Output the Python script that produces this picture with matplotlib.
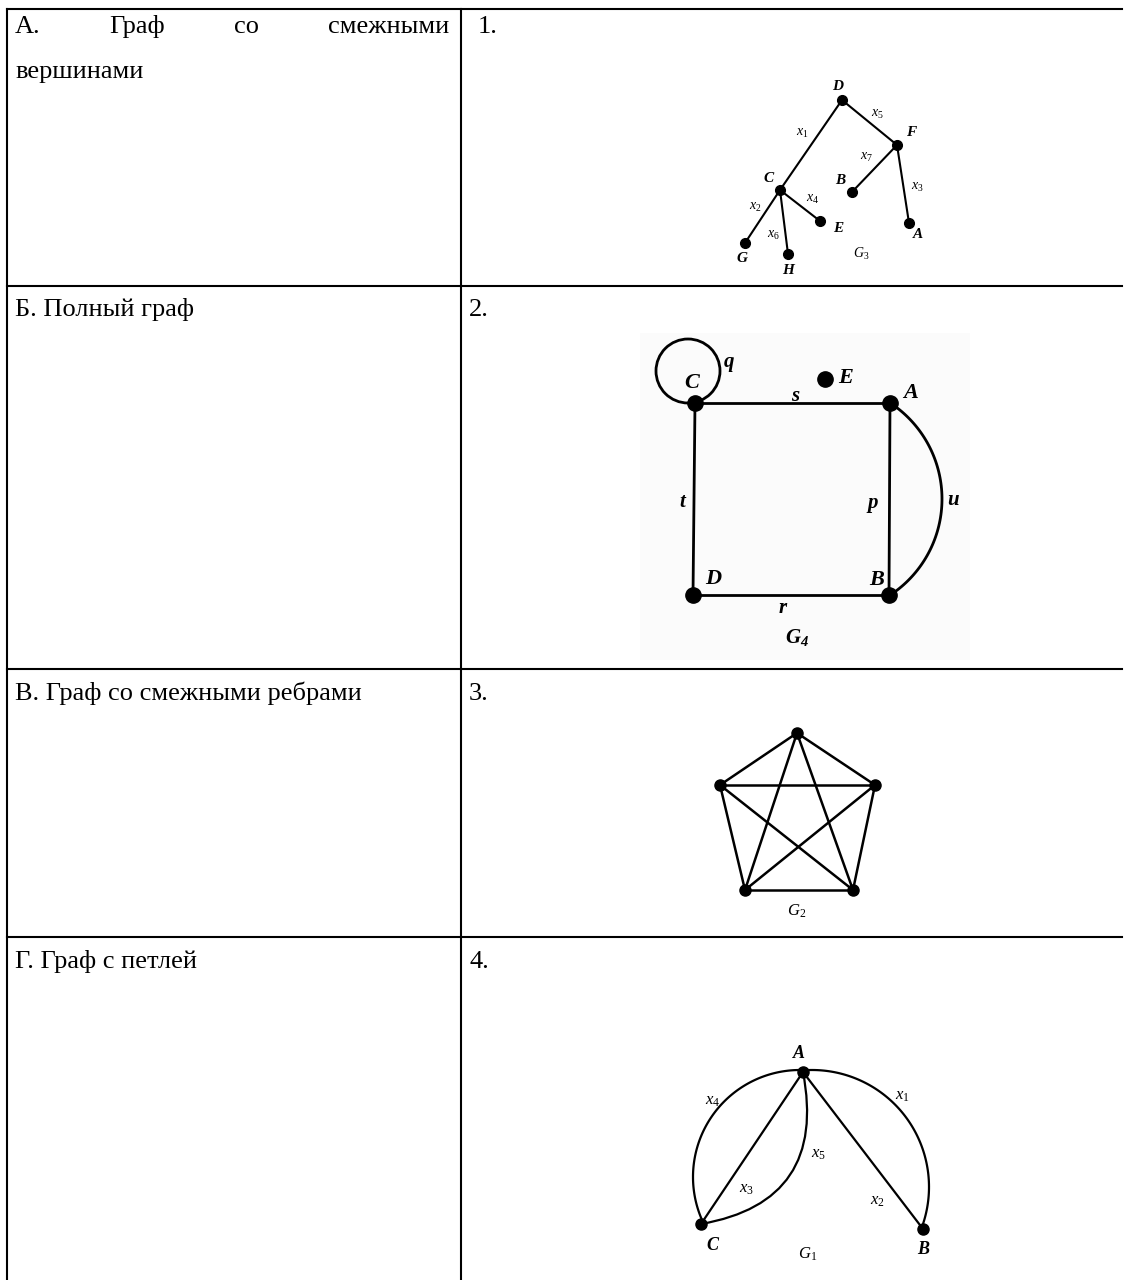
import numpy as np
import matplotlib
matplotlib.use("Agg")
from matplotlib import pyplot as plt
from matplotlib.path import Path
from matplotlib.patches import PathPatch, Circle, Rectangle

plt.rcParams['font.family'] = ['Liberation Serif', 'DejaVu Serif']
plt.rcParams['mathtext.fontset'] = 'custom'
plt.rcParams['mathtext.rm'] = 'Liberation Serif'
plt.rcParams['mathtext.it'] = 'Liberation Serif:italic'
plt.rcParams['mathtext.bf'] = 'Liberation Serif:italic:bold'

#-----table text----------------------------------------------------------
row_lines = [286, 669, 937]
col_line = 461
row_words_1 = ["А.", "Граф", "со", "смежными"]
row_labels = ["вершинами", "Б. Полный граф", "В. Граф со смежными ребрами", "Г. Граф с петлей"]
row_numbers = ["1.", "2.", "3.", "4."]

#-----graph 1 (tree G3)-----------------------------------------------------
g1_nodes = {"D": (842, 100), "F": (897, 145), "C": (780, 190), "B": (852, 192),
            "E": (820, 221), "A": (909, 223), "G": (745, 243), "H": (788, 254)}
g1_edges = [("D", "C"), ("D", "F"), ("F", "B"), ("F", "A"), ("C", "G"), ("C", "H"), ("C", "E")]
g1_node_labels = {"D": (838, 86), "F": (911, 133), "C": (769, 178), "B": (840, 181),
                  "E": (838, 228), "A": (918, 234), "G": (742, 258), "H": (788, 271)}
g1_edge_labels = {"$x_1$": (802, 133), "$x_5$": (877, 114), "$x_7$": (866, 157), "$x_3$": (917, 187),
                  "$x_2$": (755, 207), "$x_4$": (813, 199), "$x_6$": (773, 235), "$G_3$": (861, 254)}

#-----graph 2 (G4 with loop)------------------------------------------------
g2_nodes = {"C": (695, 403), "A": (890, 403), "D": (693, 595), "B": (889, 595), "E": (825, 379)}
g2_edges = [("C", "A"), ("C", "D"), ("D", "B"), ("A", "B")]
g2_loop = (688, 371, 32)
g2_arc = (827, 499, 115)  # centre x, centre y, radius of edge u
g2_node_labels = {"C": (692, 383), "A": (911, 393), "D": (713, 579), "B": (877, 580), "E": (846, 378)}
g2_edge_labels = {"q": (729, 362), "s": (795, 396), "t": (682, 502), "p": (873, 503),
                  "u": (953, 500), "r": (783, 608)}

#-----graph 3 (complete graph G2)------------------------------------------
g3_nodes = [(797, 733), (875, 785), (853, 890), (745, 890), (720, 785)]

#-----graph 4 (multigraph G1)-----------------------------------------------
g4_nodes = {"A": (803, 1072), "C": (701, 1224), "B": (923, 1229)}
g4_node_labels = {"A": (799, 1054), "C": (712, 1246), "B": (923, 1249)}
g4_edge_labels = {"$x_4$": (713, 1101), "$x_1$": (902, 1096), "$x_5$": (818, 1154),
                  "$x_3$": (746, 1189), "$x_2$": (877, 1201), "$G_1$": (808, 1254)}

fig = plt.figure(figsize=(11.31, 12.8), dpi=100)
ax = fig.add_axes([0, 0, 1, 1])
ax.set_xlim(0, 1131)
ax.set_ylim(1280, 0)
ax.axis('off')

#-----table grid--------------------------------------------------------------
lw = 1.5
ax.plot([7, 1122], [9, 9], color='black', lw=lw)
ax.plot([7, 7], [9, 1280], color='black', lw=lw)
ax.plot([col_line, col_line], [9, 1280], color='black', lw=lw)
for y in row_lines:
    ax.plot([7, 1122], [y, y], color='black', lw=lw)

fs = 19
# justified first line of row A
renderer = fig.canvas.get_renderer()
words = [ax.text(0, 33, w, fontsize=fs, va='baseline') for w in row_words_1]
widths = [t.get_window_extent(renderer).width for t in words]
left, right = 15, 449
gap = (right - left - sum(widths)) / (len(words) - 1)
x = left
for t, w in zip(words, widths):
    t.set_x(x)
    x += w + gap

text_y = [78, 316, 700, 968]
for lab, y in zip(row_labels, text_y):
    ax.text(15, y, lab, fontsize=fs, va='baseline')
num_pos = [(478, 33), (469, 316), (469, 700), (469, 968)]
for n, (x, y) in zip(row_numbers, num_pos):
    ax.text(x, y, n, fontsize=fs, va='baseline')

#-----graph 1-------------------------------------------------------------------
for a, b in g1_edges:
    (x0, y0), (x1, y1) = g1_nodes[a], g1_nodes[b]
    ax.plot([x0, x1], [y0, y1], color='black', lw=1.5)
for k, (x, y) in g1_nodes.items():
    ax.plot(x, y, 'o', color='black', ms=7)
for k, (x, y) in g1_node_labels.items():
    ax.text(x, y, k, fontsize=11, style='italic', weight='bold', ha='center', va='center')
for k, (x, y) in g1_edge_labels.items():
    ax.text(x, y, k, fontsize=10, ha='center', va='center')

#-----graph 2-------------------------------------------------------------------
ax.add_patch(Rectangle((640, 333), 330, 327, facecolor='#fbfbfb', edgecolor='none', zorder=0))
for a, b in g2_edges:
    (x0, y0), (x1, y1) = g2_nodes[a], g2_nodes[b]
    ax.plot([x0, x1], [y0, y1], color='black', lw=2)
cx, cy, r = g2_loop
ax.add_patch(Circle((cx, cy), r, fill=False, lw=2, color='black'))
ax_c, ay_c, R = g2_arc
ya, yb = g2_nodes["A"][1], g2_nodes["B"][1]
t0 = np.arcsin((ay_c - ya) / R)
t = np.linspace(t0, -t0, 80)
ax.plot(ax_c + R * np.cos(t), ay_c - R * np.sin(t), color='black', lw=2)
for k, (x, y) in g2_nodes.items():
    ax.plot(x, y, 'o', color='black', ms=11)
for k, (x, y) in g2_node_labels.items():
    ax.text(x, y, k, fontsize=16, style='italic', weight='bold', ha='center', va='center')
for k, (x, y) in g2_edge_labels.items():
    ax.text(x, y, k, fontsize=15, style='italic', weight='bold', ha='center', va='center')
ax.text(797, 637, "$\\mathbf{G_4}$", fontsize=15, ha='center', va='center')

#-----graph 3-------------------------------------------------------------------
for i in range(len(g3_nodes)):
    for j in range(i + 1, len(g3_nodes)):
        (x0, y0), (x1, y1) = g3_nodes[i], g3_nodes[j]
        ax.plot([x0, x1], [y0, y1], color='black', lw=1.8)
for x, y in g3_nodes:
    ax.plot(x, y, 'o', color='black', ms=8)
ax.text(797, 911, "$G_2$", fontsize=12, ha='center', va='center')

#-----graph 4-------------------------------------------------------------------
A, C, B = g4_nodes["A"], g4_nodes["C"], g4_nodes["B"]
ax.plot([A[0], C[0]], [A[1], C[1]], color='black', lw=1.6)
ax.plot([A[0], B[0]], [A[1], B[1]], color='black', lw=1.6)
# outer arcs x4 and x1
for (ccx, ccy, rr), (p, q) in [((800, 1177, 107), (A, C)), ((812, 1187, 117), (A, B))]:
    a0 = np.arctan2(ccy - p[1], p[0] - ccx)
    a1 = np.arctan2(ccy - q[1], q[0] - ccx)
    if a1 < 0 and a0 > 0 and q is C:
        a1 += 2 * np.pi
    t = np.linspace(a0, a1, 100)
    ax.plot(ccx + rr * np.cos(t), ccy - rr * np.sin(t), color='black', lw=1.6)
# inner arc x5
path = Path([A, (828, 1202), C], [Path.MOVETO, Path.CURVE3, Path.CURVE3])
ax.add_patch(PathPatch(path, fill=False, lw=1.6, color='black'))
for k, (x, y) in g4_nodes.items():
    ax.plot(x, y, 'o', color='black', ms=8)
for k, (x, y) in g4_node_labels.items():
    ax.text(x, y, k, fontsize=13, style='italic', weight='bold', ha='center', va='center')
for k, (x, y) in g4_edge_labels.items():
    ax.text(x, y, k, fontsize=12, ha='center', va='center')

plt.savefig('out.png', dpi=100)
